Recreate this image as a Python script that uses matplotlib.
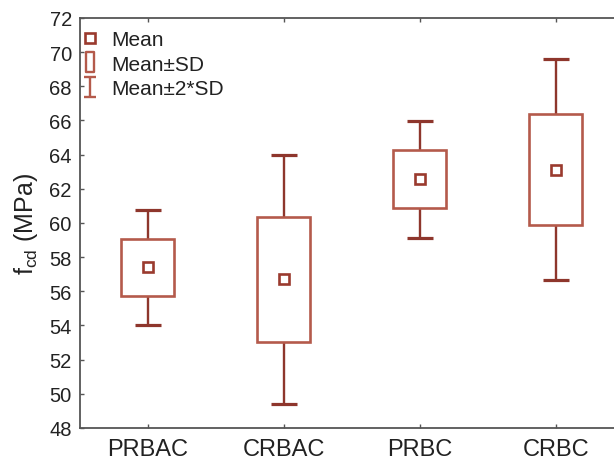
import matplotlib
matplotlib.use("Agg")
import matplotlib.pyplot as plt
from matplotlib.lines import Line2D
from matplotlib.path import Path

categories = ["PRBAC", "CRBAC", "PRBC", "CRBC"]
means = [57.4, 56.7, 62.57, 63.13]
sds = [1.68, 3.65, 1.71, 3.23]
yticks = [48, 50, 52, 54, 56, 58, 60, 62, 64, 66, 68, 70, 72]

box_color = "#b45a4b"
line_color = "#8e362c"
mean_color = "#9a3a2e"
spine_color = "#555555"
text_color = "#222222"

plt.rcParams['font.family'] = ['Liberation Sans', 'DejaVu Sans']

fig = plt.figure(figsize=(6.14, 4.6), dpi=100)
ax = fig.add_axes([0.1295, 0.0674, 0.8867, 0.8913])

x = list(range(len(categories)))
lower = [m - s for m, s in zip(means, sds)]
heights = [2 * s for s in sds]
two_sd = [2 * s for s in sds]

ax.errorbar(x, means, yerr=two_sd, fmt='none', ecolor=line_color,
            elinewidth=1.7, capsize=9.5, capthick=2.3, zorder=2)
ax.bar(x, heights, bottom=lower, width=0.39, facecolor='white',
       edgecolor=box_color, linewidth=1.9, zorder=3)
ax.plot(x, means, linestyle='none', marker='s', markersize=7,
        markerfacecolor='white', markeredgecolor=mean_color,
        markeredgewidth=1.9, zorder=4)

ax.set_xlim(-0.5, 3.5)
ax.set_ylim(48, 72)
ax.set_yticks(yticks)
ax.set_xticks(x)
ax.set_xticklabels(categories, fontsize=17, color=text_color)
ax.tick_params(axis='y', labelsize=14.5, pad=5.5, labelcolor=text_color)
ax.tick_params(direction='in', length=3, width=1, color=spine_color,
               top=True, right=True)
ax.tick_params(axis='x', pad=7)
for sp in ax.spines.values():
    sp.set_color(spine_color)
    sp.set_linewidth(1.3)

ax.set_ylabel(r"f$_{\mathregular{cd}}$ (MPa)", fontsize=18, color=text_color)
ax.yaxis.set_label_coords(-0.073, 0.5)

rect_marker = Path([(-0.38, -1), (0.38, -1), (0.38, 1), (-0.38, 1), (-0.38, -1)],
                   [Path.MOVETO, Path.LINETO, Path.LINETO, Path.LINETO, Path.CLOSEPOLY])
ibeam_marker = Path([(-0.55, -1), (0.55, -1), (0, -1), (0, 1), (-0.55, 1), (0.55, 1)],
                    [Path.MOVETO, Path.LINETO, Path.MOVETO, Path.LINETO, Path.MOVETO, Path.LINETO])

handles = [
    Line2D([], [], linestyle='none', marker='s', markersize=7,
           markerfacecolor='white', markeredgecolor=mean_color, markeredgewidth=1.9),
    Line2D([], [], linestyle='none', marker=rect_marker, markersize=15,
           markerfacecolor='white', markeredgecolor=box_color, markeredgewidth=1.7),
    Line2D([], [], linestyle='none', marker=ibeam_marker, markersize=15,
           markerfacecolor='none', markeredgecolor=box_color, markeredgewidth=1.7),
]
labels = ["Mean", "Mean\u00b1SD", "Mean\u00b12*SD"]
leg = ax.legend(handles, labels, loc='upper left', frameon=False, fontsize=15,
                handlelength=0.8, handletextpad=0.59, labelspacing=0.25,
                borderaxespad=0.0, bbox_to_anchor=(-0.011, 0.99))
for t in leg.get_texts():
    t.set_color(text_color)

fig.savefig("out.png", dpi=100)
